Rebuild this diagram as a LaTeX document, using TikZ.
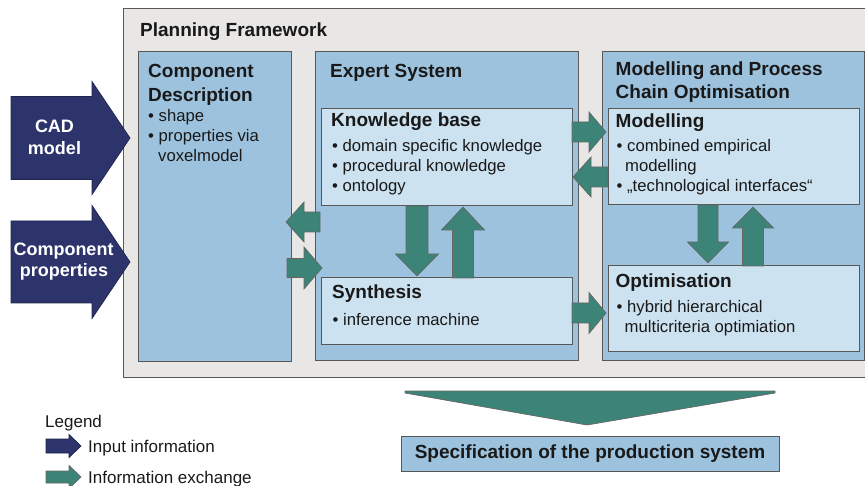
\documentclass[tikz,border=0pt]{standalone}
\usepackage{fontspec}
\setmainfont{Liberation Sans}
\definecolor{bggray}{RGB}{232,231,229}
\definecolor{midblue}{RGB}{157,194,221}
\definecolor{lightblue}{RGB}{205,226,240}
\definecolor{navy}{RGB}{45,52,108}
\definecolor{tealc}{RGB}{60,132,120}
\definecolor{edgec}{RGB}{88,88,88}
\definecolor{txt}{RGB}{25,25,25}
\newcommand{\blockarr}[7]{%
  \begin{scope}[shift={(#2)},rotate=#3]
    \filldraw[#1] (0,-#5) -- ({#4-#7},-#5) -- ({#4-#7},-#6) -- (#4,0) -- ({#4-#7},#6) -- ({#4-#7},#5) -- (0,#5) -- cycle;
  \end{scope}}
\tikzset{
  frame/.style={draw=edgec, line width=1pt, inner sep=0pt, outer sep=0pt, anchor=north west},
  hd/.style={font=\fontsize{19}{22}\selectfont\bfseries, text=txt, inner sep=0pt, anchor=base west},
  bl/.style={font=\fontsize{16.7}{20}\selectfont, text=txt, inner sep=0pt, anchor=base west},
  lg/.style={font=\fontsize{17}{20}\selectfont, text=txt, inner sep=0pt, anchor=base west},
  wt/.style={font=\fontsize{18}{21}\selectfont\bfseries, text=white, inner sep=0pt, anchor=base},
  navyarr/.style={fill=navy, draw=navy!70!black, line width=0.7pt},
  tealarr/.style={fill=tealc, draw=black!60, line width=0.7pt}
}
\begin{document}
\begin{tikzpicture}[x=1pt,y=-1pt]
\useasboundingbox (0,0) rectangle (865,486);
\clip (0,0) rectangle (865,486);
% frames
\node[frame, fill=bggray, minimum width=760pt, minimum height=368pt] (pf) at (123,9) {};
\node[frame, fill=midblue, minimum width=153pt, minimum height=310pt] (cd) at (138,52) {};
\node[frame, fill=midblue, minimum width=263pt, minimum height=309pt] (es) at (315,52) {};
\node[frame, fill=midblue, minimum width=262pt, minimum height=309pt] (mp) at (602,52) {};
\node[frame, fill=lightblue, minimum width=251pt, minimum height=97pt] (kb) at (321,109) {};
\node[frame, fill=lightblue, minimum width=251pt, minimum height=67pt] (syn) at (321,278) {};
\node[frame, fill=lightblue, minimum width=251pt, minimum height=96pt] (mod) at (608,109) {};
\node[frame, fill=lightblue, minimum width=251pt, minimum height=86pt] (opt) at (608,266) {};
\node[frame, fill=midblue, minimum width=378pt, minimum height=35pt] (spec) at (401,436) {};
% arrows
\blockarr{navyarr}{11,138}{0}{119}{41.5}{56.5}{38}
\blockarr{navyarr}{11,262}{0}{119}{41}{56.5}{38}
\blockarr{tealarr}{320,222}{180}{34}{10}{20}{18}
\blockarr{tealarr}{287,268}{0}{35}{9.5}{21}{18}
\blockarr{tealarr}{572,132}{0}{34}{10}{20}{17}
\blockarr{tealarr}{608,177}{180}{35}{10}{20}{18}
\blockarr{tealarr}{572,313}{0}{34}{10}{20.5}{17}
\blockarr{tealarr}{417,206}{-90}{70}{11}{21.5}{22}
\blockarr{tealarr}{463,278}{90}{71}{10.5}{21.5}{23}
\blockarr{tealarr}{708,205}{-90}{58}{10}{20.5}{21}
\blockarr{tealarr}{753,266}{90}{59}{10.5}{20.5}{21}
\blockarr{navyarr}{46,446}{0}{35}{7}{11.5}{12}
\blockarr{tealarr}{46,477}{0}{35}{6}{11.5}{12}
\filldraw[tealarr] (405,391) -- (775,391) -- (775,393) -- (587,425) -- (405,393) -- cycle;
% texts
\node[hd] (tpf) at (140,37) {Planning Framework};
\node[hd] (tcd1) at (148,78) {Component};
\node[hd] (tcd2) at (148,101.5) {Description};
\node[bl] (bcd1) at (148,122) {• shape};
\node[bl] (bcd2) at (148,142) {• properties via};
\node[bl] (bcd3) at (158,162) {voxelmodel};
\node[hd] (tes) at (330,78) {Expert System};
\node[hd] (tkb) at (331,127) {Knowledge base};
\node[bl] (bkb1) at (332,152) {• domain specific knowledge};
\node[bl] (bkb2) at (332,172) {• procedural knowledge};
\node[bl] (bkb3) at (332,192) {• ontology};
\node[hd] (tsyn) at (332,299) {Synthesis};
\node[bl] (bsyn) at (332.5,326) {• inference machine};
\node[hd] (tmp1) at (615.5,75.5) {Modelling and Process};
\node[hd] (tmp2) at (615.5,98.5) {Chain Optimisation};
\node[hd] (tmod) at (615.5,128) {Modelling};
\node[bl] (bmod1) at (616.5,152) {• combined empirical};
\node[bl] (bmod2) at (625,172) {modelling};
\node[bl] (bmod3) at (616.5,192) {• „technological interfaces“};
\node[hd] (topt) at (615.5,288) {Optimisation};
\node[bl] (bopt1) at (616.5,313) {• hybrid hierarchical};
\node[bl] (bopt2) at (624.5,333) {multicriteria optimiation};
\node[wt] (tcad1) at (54.5,133) {CAD};
\node[wt] (tcad2) at (54.5,155) {model};
\node[wt] (tcp1) at (63.5,256) {Component};
\node[wt] (tcp2) at (64,277) {properties};
\node[font=\fontsize{19}{22}\selectfont\bfseries, text=txt, inner sep=0pt] (tspec) at (590,453.5) {Specification of the production system};
\node[lg] (tleg) at (45,427) {Legend};
\node[lg] (tl1) at (88,452) {Input information};
\node[lg] (tl2) at (88,483) {Information exchange};
\end{tikzpicture}
\end{document}
